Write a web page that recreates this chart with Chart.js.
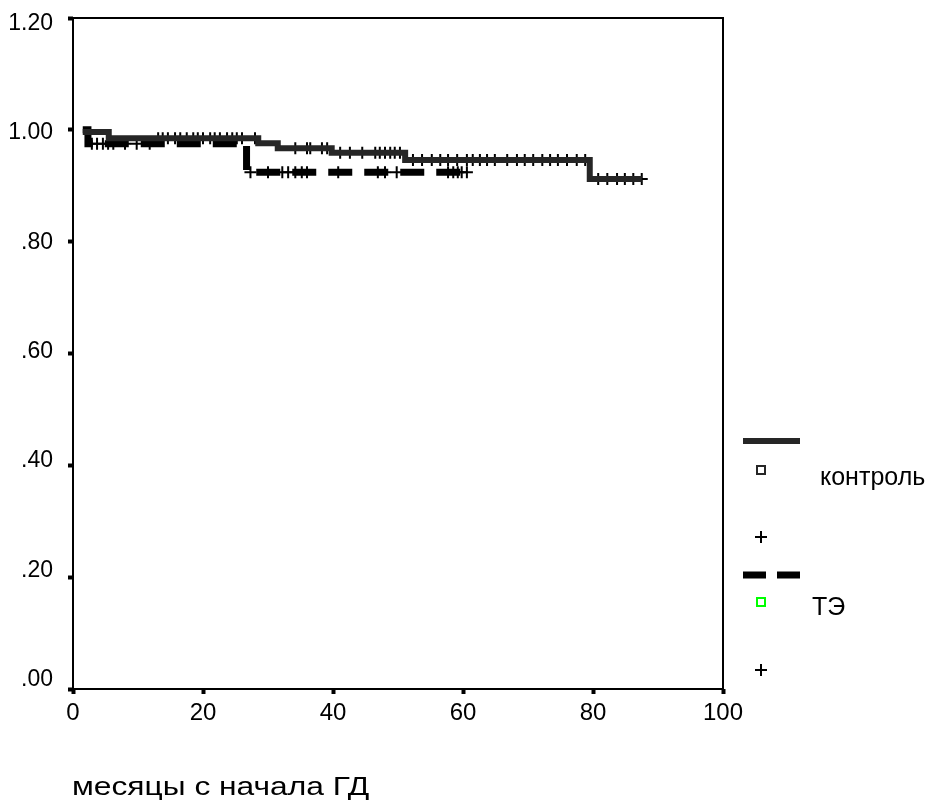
<!DOCTYPE html>
<html>
<head>
<meta charset="utf-8">
<title>Выживаемость</title>
<script src="https://cdn.jsdelivr.net/npm/chart.js@4"></script>
<style>
  html, body { margin: 0; padding: 0; background: #fff; }
  #wrap { position: relative; width: 939px; height: 802px; }
</style>
</head>
<body>
<div id="wrap"><canvas id="survivalChart"></canvas></div>
<script>
// Kaplan-Meier steps: time (months) where the level starts, and the level
const controlTimes = [1.5, 5.5, 28.5, 31.5, 39.8, 51.1, 79.5, 87.5];
const controlSurv  = [0.996, 0.985, 0.976, 0.967, 0.959, 0.946, 0.912, 0.912];
const teTimes = [1.5, 2.3, 26.7, 60.6];
const teSurv  = [1.0, 0.975, 0.924, 0.924];

// censored cases (months)
const controlCensored = [13.1, 13.8, 14.6, 15.7, 16.5, 17.5, 18.5, 19.2, 20, 21.1, 21.8, 22.6,
  23.7, 24.5, 25.2, 26, 28, 34.2, 36, 36.5, 38.3, 39.1, 41.1, 42.6, 44.5, 46.5, 47.2, 48,
  48.8, 49.5, 50.3, 52.3, 53.7, 55.2, 56.5, 57.7, 59.1, 60.6, 61.5, 62.6, 63.7, 64.9, 66.8,
  68.3, 69.5, 70.8, 72.2, 73.4, 74.6, 76, 77.5, 78.8, 80.8, 82.2, 83.7, 84.9, 86.2, 87.5];
const teCensored = [2.9, 3.7, 4.6, 5.4, 6.2, 8, 9.8, 11.8, 27.3, 30, 32.2, 33.1, 34.2, 35.2,
  36, 40.8, 46.9, 48, 49.8, 57.7, 58.5, 59.2, 59.8, 60.6];

const groupNames = ['контроль', 'ТЭ'];
const xTicks = [0, 20, 40, 60, 80, 100];
const yTicks = [0, 0.2, 0.4, 0.6, 0.8, 1.0, 1.2];
const xTitle = 'месяцы с начала ГД';

const FONT = 'Arial, "Liberation Sans", sans-serif';
Chart.defaults.font.family = FONT;
Chart.defaults.color = '#000';

function survivalAt(times, surv, t) {
    let s = surv[0];
    for (let i = 0; i < times.length; i++) {
        if (times[i] <= t) s = surv[i];
    }
    return s;
}

const toPoints = (times, surv) => times.map((t, i) => ({ x: t, y: surv[i] }));
const censorPoints = (list, times, surv) => list.map(t => ({ x: t, y: survivalAt(times, surv, t) }));

// box around the plot area
const frame = {
    id: 'frame',
    afterDraw(chart) {
        const { ctx, chartArea: a } = chart;
        ctx.save();
        ctx.strokeStyle = '#000';
        ctx.lineWidth = 2;
        ctx.strokeRect(a.left, a.top, a.right - a.left, a.bottom - a.top);
        ctx.restore();
    }
};

// x axis title, left aligned under the axis and drawn a bit wide
const wideTitle = {
    id: 'wideTitle',
    afterDraw(chart) {
        const ctx = chart.ctx;
        ctx.save();
        ctx.translate(chart.chartArea.left - 1, 795);
        ctx.scale(1.27, 1);
        ctx.font = '25px ' + FONT;
        ctx.fillStyle = '#000';
        ctx.textBaseline = 'alphabetic';
        ctx.fillText(xTitle, 0, 0);
        ctx.restore();
    }
};

// legend on the right: line sample, marker square, censor cross for each group
const sideLegend = {
    id: 'sideLegend',
    afterDraw(chart) {
        const ctx = chart.ctx;
        const x0 = chart.chartArea.right + 20;
        const ds = chart.data.datasets;
        ctx.save();

        const rows = [
            { line: ds[0], lineY: 441, boxY: 466, boxColor: '#262626', textX: 820, textY: 478, crossY: 537 },
            { line: ds[1], lineY: 575, boxY: 598, boxColor: '#00ff00', textX: 812, textY: 608, crossY: 670 }
        ];
        rows.forEach((r, i) => {
            ctx.strokeStyle = r.line.borderColor;
            ctx.lineWidth = r.line.borderWidth;
            ctx.setLineDash(r.line.borderDash ? [23, 11] : []);
            ctx.beginPath();
            ctx.moveTo(x0, r.lineY);
            ctx.lineTo(x0 + 57, r.lineY);
            ctx.stroke();
            ctx.setLineDash([]);

            ctx.strokeStyle = r.boxColor;
            ctx.lineWidth = 2;
            ctx.strokeRect(x0 + 14, r.boxY, 8, 8);

            ctx.fillStyle = '#000';
            ctx.font = '25px ' + FONT;
            ctx.textBaseline = 'middle';
            ctx.fillText(groupNames[i], r.textX, r.textY);

            ctx.strokeStyle = '#000';
            ctx.lineWidth = 2;
            ctx.beginPath();
            ctx.moveTo(x0 + 12, r.crossY);
            ctx.lineTo(x0 + 24, r.crossY);
            ctx.moveTo(x0 + 18, r.crossY - 6);
            ctx.lineTo(x0 + 18, r.crossY + 6);
            ctx.stroke();
        });
        ctx.restore();
    }
};

const tickMarks = { drawOnChartArea: false, drawTicks: true, tickLength: 5, tickWidth: 4, tickColor: '#000' };

const ctx = document.getElementById('survivalChart').getContext('2d');
new Chart(ctx, {
    type: 'line',
    data: {
        datasets: [
            {
                label: groupNames[0],
                data: toPoints(controlTimes, controlSurv),
                stepped: 'before',
                borderColor: '#262626',
                borderWidth: 6,
                pointRadius: 0,
                fill: false
            },
            {
                label: groupNames[1],
                data: toPoints(teTimes, teSurv),
                stepped: 'before',
                borderColor: '#000',
                borderWidth: 7,
                borderDash: [24, 12],
                pointRadius: 0,
                fill: false
            },
            {
                label: groupNames[0] + ' (цензур.)',
                data: censorPoints(controlCensored, controlTimes, controlSurv),
                showLine: false,
                pointStyle: 'cross',
                pointRadius: 6,
                pointBorderWidth: 2,
                borderColor: '#000',
                backgroundColor: '#000'
            },
            {
                label: groupNames[1] + ' (цензур.)',
                data: censorPoints(teCensored, teTimes, teSurv),
                showLine: false,
                pointStyle: 'cross',
                pointRadius: 6,
                pointBorderWidth: 2,
                borderColor: '#000',
                backgroundColor: '#000'
            }
        ]
    },
    options: {
        responsive: true,
        maintainAspectRatio: false,
        animation: false,
        layout: { padding: { top: 18, right: 216, left: 0, bottom: 0 } },
        plugins: {
            legend: { display: false },
            tooltip: { enabled: false }
        },
        scales: {
            x: {
                type: 'linear',
                min: 0,
                max: 100,
                afterBuildTicks: s => { s.ticks = xTicks.map(v => ({ value: v })); },
                afterFit: s => { s.height = 113; },
                border: { display: false },
                grid: tickMarks,
                ticks: { font: { size: 24 }, padding: 5, maxRotation: 0 },
                title: { display: false, text: xTitle }
            },
            // value axis: only the square tick marks
            y: {
                min: 0,
                max: 1.2,
                weight: 0,
                afterBuildTicks: s => { s.ticks = yTicks.map(v => ({ value: v })); },
                afterFit: s => {
                    s.width = 5;
                    s.paddingTop = 0;
                    s.paddingBottom = 0;
                },
                border: { display: false },
                grid: tickMarks,
                ticks: { display: false }
            },
            // tick labels sit on a slightly squeezed copy of the value axis
            yLabels: {
                type: 'linear',
                position: 'left',
                min: -0.0165,
                max: 1.2098,
                weight: 1,
                afterBuildTicks: s => { s.ticks = yTicks.map(v => ({ value: v })); },
                afterFit: s => {
                    s.width = 68;
                    s.paddingTop = 0;
                    s.paddingBottom = 0;
                },
                border: { display: false },
                grid: { display: false, drawTicks: false },
                ticks: {
                    font: { size: 23 },
                    padding: 15,
                    callback: v => v.toFixed(2).replace(/^0/, '')
                }
            }
        }
    },
    plugins: [frame, wideTitle, sideLegend]
});
</script>
</body>
</html>
